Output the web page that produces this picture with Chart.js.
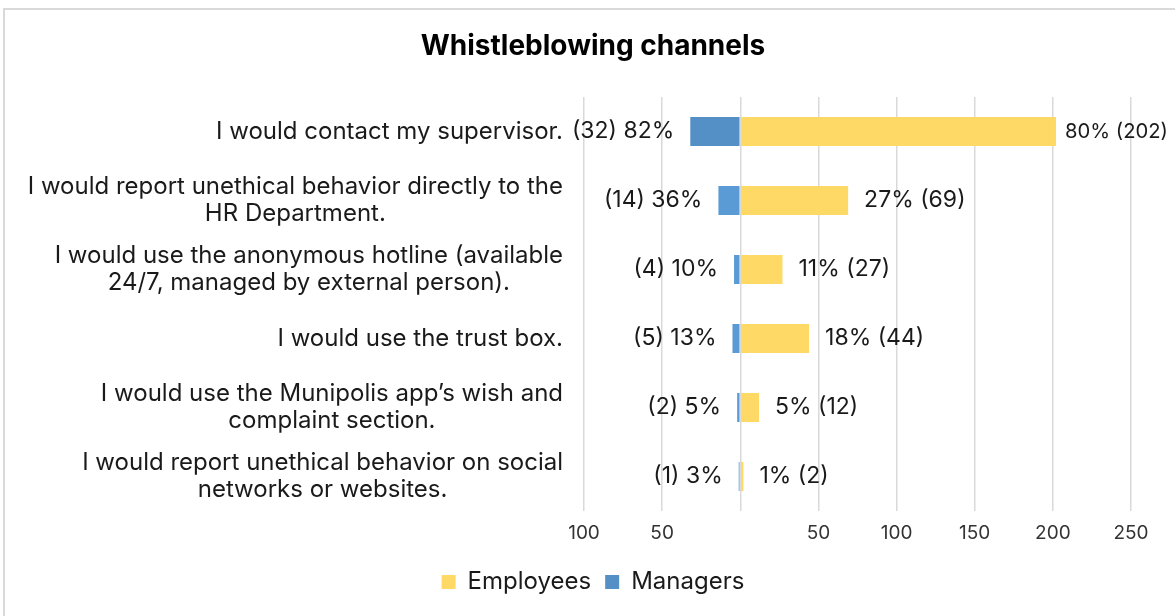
<!DOCTYPE html>
<html>
<head>
<meta charset="utf-8">
<script src="https://cdn.jsdelivr.net/npm/chart.js@4/dist/chart.umd.min.js"></script>
<style>
  html, body { margin: 0; padding: 0; background: #fff; }
  #wrap { position: relative; width: 1175px; height: 616px; overflow: hidden; }
  #frame { position: absolute; left: 3px; top: 8px; width: 1200px; height: 700px; border: 2px solid #d9d9d9; box-sizing: border-box; }
  canvas { position: absolute; left: 0; top: 0; }
</style>
</head>
<body>
<div id="wrap">
  <div id="frame"></div>
  <canvas id="c" width="1175" height="616"></canvas>
</div>
<script>
const chartTitle = 'Whistleblowing channels';
const categories = [
  'I would contact my supervisor.',
  ['I would report unethical behavior directly to the', 'HR Department.'],
  ['I would use the anonymous hotline (available', '24/7, managed by external person).'],
  'I would use the trust box.',
  ['I would use the Munipolis app\u2019s wish and', 'complaint section.'],
  ['I would report unethical behavior on social', 'networks or websites.']
];
const employeesCount = [202, 69, 27, 44, 12, 2];
const employeesPct   = [80, 27, 11, 18, 5, 1];
const managersCount  = [32, 14, 4, 5, 2, 1];
const managersPct    = [82, 36, 10, 13, 5, 3];
const seriesNames = ['Employees', 'Managers'];

const FONT = 'Inter, "Noto Sans", sans-serif';

// Category labels: each block right-aligned to the axis, its lines centred within the block
const categoryLabelPlugin = {
  id: 'categoryLabels',
  afterDraw(chart) {
    const ctx = chart.ctx;
    const yScale = chart.scales.y;
    const rightEdge = chart.chartArea.left - 21;
    const lh = 27;
    ctx.save();
    ctx.font = '24px ' + FONT;
    ctx.fillStyle = '#1a1a1a';
    ctx.textBaseline = 'middle';
    ctx.textAlign = 'center';
    chart.data.labels.forEach((lab, i) => {
      const lines = Array.isArray(lab) ? lab : [lab];
      const w = Math.max(...lines.map(l => ctx.measureText(l).width));
      const cx = rightEdge - w / 2;
      const cy = yScale.getPixelForTick(i);
      const y0 = cy - (lines.length - 1) * lh / 2;
      lines.forEach((l, k) => ctx.fillText(l, cx, y0 + k * lh));
    });
    ctx.restore();
  }
};

const labelPlugin = {
  id: 'barLabels',
  afterDatasetsDraw(chart) {
    const ctx = chart.ctx;
    ctx.save();
    ctx.fillStyle = '#1a1a1a';
    ctx.textBaseline = 'middle';
    chart.data.datasets.forEach((ds, di) => {
      const meta = chart.getDatasetMeta(di);
      meta.data.forEach((bar, i) => {
        const gap = 16;
        ctx.font = '23px ' + FONT;
        if (di === 0) {
          const txt = employeesPct[i] + '% (' + employeesCount[i] + ')';
          let w = ctx.measureText(txt).width;
          let x = bar.x + gap;
          const limit = chart.width - 7;
          if (x + w > limit) {
            x = bar.x + 9;
            const avail = limit - x;
            if (w > avail) {
              ctx.font = (23 * avail / w).toFixed(2) + 'px ' + FONT;
            }
          }
          ctx.textAlign = 'left';
          ctx.fillText(txt, x, bar.y);
        } else {
          const txt = '(' + managersCount[i] + ') ' + managersPct[i] + '%';
          ctx.textAlign = 'right';
          ctx.fillText(txt, bar.x - gap, bar.y);
        }
      });
    });
    ctx.restore();
  }
};

new Chart(document.getElementById('c'), {
  type: 'bar',
  data: {
    labels: categories,
    datasets: [
      {
        label: seriesNames[0],
        data: employeesCount,
        backgroundColor: '#FFD966',
        categoryPercentage: 1,
        barPercentage: 0.42
      },
      {
        label: seriesNames[1],
        data: managersCount.map(v => -v),
        backgroundColor: ['#5490C6', '#5B9BD5', '#5B9BD5', '#5B9BD5', '#5B9BD5', '#5B9BD5'],
        categoryPercentage: 1,
        barPercentage: 0.42
      }
    ]
  },
  options: {
    indexAxis: 'y',
    responsive: false,
    animation: false,
    layout: { padding: { left: 55, right: 44, top: 0, bottom: 12 } },
    plugins: {
      title: {
        display: true,
        text: chartTitle,
        color: '#000',
        font: { family: FONT, size: 28, weight: 'bold' },
        padding: { top: 30, bottom: 33.4 }
      },
      legend: {
        position: 'bottom',
        labels: {
          color: '#1a1a1a',
          font: { family: FONT, size: 24 },
          boxWidth: 14,
          boxHeight: 14,
          padding: 14
        }
      },
      tooltip: { enabled: false }
    },
    scales: {
      x: {
        stacked: true,
        min: -100,
        max: 250,
        ticks: {
          stepSize: 50,
          color: '#333',
          font: { family: FONT, size: 19 },
          padding: 11,
          callback: (v) => v === 0 ? '' : String(Math.abs(v))
        },
        grid: { color: '#d9d9d9', lineWidth: 1.5, drawTicks: false },
        border: { display: false },
        afterFit(scale) { scale.height = 45; }
      },
      y: {
        stacked: true,
        ticks: { display: false, autoSkip: false },
        grid: { display: false, drawTicks: false },
        border: { display: false },
        afterFit(scale) { scale.width = 529; }
      }
    }
  },
  plugins: [labelPlugin, categoryLabelPlugin]
});
</script>
</body>
</html>
